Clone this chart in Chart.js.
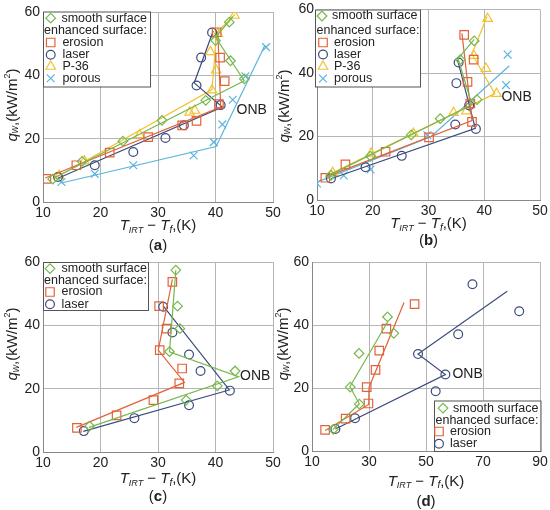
<!DOCTYPE html>
<html>
<head>
<meta charset="utf-8">
<script src="https://cdn.jsdelivr.net/npm/chart.js@4.4.1/dist/chart.umd.min.js"></script>
<style>
  body { margin: 0; background: #fff; }
  #wrap { position: relative; width: 550px; height: 510px; overflow: hidden; }
  #wrap canvas { position: absolute; }
</style>
</head>
<body>
<div id="wrap">
  <canvas id="chartA" width="285" height="255" style="left:0;top:0"></canvas>
  <canvas id="chartB" width="275" height="255" style="left:275px;top:0"></canvas>
  <canvas id="chartC" width="285" height="255" style="left:0;top:255px"></canvas>
  <canvas id="chartD" width="275" height="255" style="left:275px;top:255px"></canvas>
</div>
<script>
// values: [T_IRT - T_f (K), q_w (kW/m2)]
// (a)
const aSmooth = [[11.7, 7.2], [16.8, 12.8], [23.9, 19.2], [30.7, 25.8], [38.3, 32.1], [45.0, 38.9], [42.6, 44.6], [40.0, 51.0], [42.4, 56.8]];
const aSmoothFit = [[11.7, 7.4], [45.0, 38.3], [40.0, 52.0], [43.0, 58.5]];
const aErosion = [[10.6, 7.3], [15.8, 11.6], [21.6, 15.6], [28.3, 20.5], [34.2, 24.2], [36.7, 25.6], [40.6, 30.9], [41.6, 38.2], [40.8, 45.6], [40.2, 53.6]];
const aErosionFit = [[10.4, 7.6], [40.9, 30.0], [40.4, 53.8]];
const aLaser = [[12.6, 7.9], [19.0, 11.6], [25.7, 15.8], [31.3, 20.2], [34.5, 24.2], [40.9, 30.6], [36.7, 36.8], [37.5, 45.6], [39.4, 53.5]];
const aLaserFit = [[12.6, 7.5], [41.2, 30.0], [36.3, 37.6], [39.6, 54.0]];
const aP36 = [[12.8, 8.3], [17.2, 12.9], [26.8, 21.2], [35.5, 28.3], [36.4, 28.9], [39.4, 35.3], [40.1, 41.6], [39.1, 47.4], [40.4, 53.2], [43.3, 58.9]];
const aP36Fit = [[12.5, 8.0], [39.4, 35.5], [40.2, 53.5], [43.4, 59.3]];
const aPorous = [[13.2, 6.3], [19.0, 8.9], [25.7, 11.6], [36.2, 14.7], [39.7, 18.9], [41.2, 24.5], [43.0, 32.3], [45.2, 39.7], [48.8, 48.9]];
const aPorousFit = [[13.2, 6.0], [40.1, 17.5], [48.6, 49.5]];
// (b)
const bSmooth = [[12.5, 7.8], [19.6, 13.8], [26.9, 20.5], [32.1, 25.6], [38.7, 31.6], [35.7, 44.2], [38.2, 50.1]];
const bSmoothFit = [[12.0, 7.6], [37.8, 30.0], [35.3, 44.5], [38.2, 50.6]];
const bErosion = [[11.5, 7.0], [15.1, 11.2], [22.3, 15.2], [30.1, 19.7], [37.8, 24.6], [37.5, 30.4], [37.0, 37.2], [38.1, 44.2], [36.4, 52.0]];
const bErosionFit = [[11.5, 7.2], [37.8, 25.0], [36.0, 52.5]];
const bLaser = [[12.5, 6.8], [18.7, 10.3], [25.2, 13.9], [34.8, 23.8], [38.5, 22.4], [37.3, 29.8], [35.0, 36.8], [35.4, 43.3]];
const bLaserFit = [[12.5, 6.7], [38.4, 22.6], [35.2, 44.2]];
const bP36 = [[12.8, 8.6], [19.7, 14.7], [27.3, 20.9], [34.5, 27.5], [36.8, 28.0], [42.2, 33.5], [40.3, 41.4], [38.1, 45.5], [40.6, 57.1]];
const bP36Fit = [[12.5, 8.3], [41.9, 33.5], [37.8, 46.0], [40.5, 57.8]];
const bPorous = [[10.0, 5.2], [14.8, 7.7], [19.6, 9.6], [29.8, 20.4], [43.9, 36.2], [44.2, 45.8]];
const bPorousFit = [[10.0, 5.6], [30.5, 20.0], [44.5, 42.3]];
// (c)
const cSmooth = [[18.1, 8.2], [34.9, 16.4], [40.3, 20.9], [43.4, 25.6], [32.0, 31.7], [33.8, 39.0], [33.4, 46.1], [33.1, 57.5]];
const cSmoothFit = [[18.0, 7.8], [44.0, 23.8], [32.0, 31.7], [33.1, 57.5]];
const cErosion = [[15.9, 7.6], [22.8, 11.6], [29.2, 16.4], [33.7, 21.7], [34.2, 26.4], [30.3, 32.2], [31.5, 39.0], [30.2, 46.1], [32.5, 53.8]];
const cErosionFit = [[15.8, 7.8], [34.6, 22.0], [30.05, 32.2], [32.5, 54.6]];
const cLaser = [[17.1, 6.6], [25.9, 10.7], [35.4, 14.8], [42.5, 19.4], [37.4, 25.6], [35.4, 30.8], [32.5, 37.8], [30.9, 45.9]];
const cLaserFit = [[17.0, 6.5], [42.4, 19.6], [30.9, 46.2]];
// (d)
const dSmooth = [[17.5, 6.9], [26.6, 14.9], [23.4, 20.3], [26.5, 31.0], [38.7, 37.4], [36.5, 42.6]];
const dSmoothFit = [[17.3, 6.8], [26.6, 15.0], [23.3, 20.4], [36.5, 41.0]];
const dErosion = [[14.6, 6.7], [21.8, 10.3], [29.8, 15.1], [29.2, 20.3], [32.3, 25.8], [33.6, 31.9], [36.1, 38.9], [46.0, 46.7]];
const dErosionFit = [[14.6, 6.5], [29.9, 14.8], [30.0, 20.2], [42.3, 47.2]];
const dLaser = [[18.2, 7.0], [25.1, 10.4], [53.4, 19.0], [56.8, 24.3], [47.2, 30.8], [61.3, 37.1], [66.3, 53.0], [82.7, 44.4]];
const dLaserFit = [[18.2, 7.0], [56.8, 24.3], [47.2, 30.8], [78.5, 50.8]];

const FONT = '"Liberation Sans", Arial, Helvetica, sans-serif';
const COL = {
  smooth: "#76b84c",
  erosion: "#e2633a",
  laser: "#3b4c7e",
  p36: "#f1c232",
  porous: "#5bb4dc",
};
const MARK = {
  smooth: { style: "rectRot", r: 4.8 },
  erosion: { style: "rect", r: 6 },
  laser: { style: "circle", r: 4.4 },
  p36: { style: "triangle", r: 5.5 },
  porous: { style: "crossRot", r: 5.5 },
};
const NAMES = {
  smooth: "smooth surface",
  erosion: "erosion",
  laser: "laser",
  p36: "P-36",
  porous: "porous",
};

function toXY(list) {
  return list.map((p) => ({ x: p[0], y: p[1] }));
}

/**
 * Marker drawing for the in-plot legend (same shapes as Chart.js points)
 */
function drawMarker(ctx, key, x, y) {
  const m = MARK[key];
  const r = m.r;
  ctx.save();
  ctx.strokeStyle = COL[key];
  ctx.lineWidth = 1.2;
  ctx.beginPath();
  if (m.style === "circle") {
    ctx.arc(x, y, r, 0, Math.PI * 2);
  } else if (m.style === "rect") {
    const s = r * Math.SQRT1_2;
    ctx.rect(x - s, y - s, 2 * s, 2 * s);
  } else if (m.style === "rectRot") {
    ctx.moveTo(x - r, y);
    ctx.lineTo(x, y - r);
    ctx.lineTo(x + r, y);
    ctx.lineTo(x, y + r);
    ctx.closePath();
  } else if (m.style === "triangle") {
    let a = 0;
    ctx.moveTo(x + Math.sin(a) * r, y - Math.cos(a) * r);
    a += (2 * Math.PI) / 3;
    ctx.lineTo(x + Math.sin(a) * r, y - Math.cos(a) * r);
    a += (2 * Math.PI) / 3;
    ctx.lineTo(x + Math.sin(a) * r, y - Math.cos(a) * r);
    ctx.closePath();
  } else if (m.style === "crossRot") {
    const d = r * Math.SQRT1_2;
    ctx.moveTo(x - d, y - d);
    ctx.lineTo(x + d, y + d);
    ctx.moveTo(x - d, y + d);
    ctx.lineTo(x + d, y - d);
  }
  ctx.stroke();
  ctx.restore();
}

// text made of several runs (italic, subscript, superscript), centered at cx
function drawRuns(ctx, runs, cx, cy) {
  let w = 0;
  runs.forEach((r) => {
    ctx.font = r.font;
    w += ctx.measureText(r.t).width;
  });
  let x = cx - w / 2;
  runs.forEach((r) => {
    ctx.font = r.font;
    ctx.fillText(r.t, x, cy + (r.dy || 0));
    x += ctx.measureText(r.t).width;
  });
}

const xTitleRuns = [
  { t: "T", font: "italic 15px " + FONT },
  { t: "IRT", font: "italic 9px " + FONT, dy: 4 },
  { t: " \u2212 ", font: "15px " + FONT },
  { t: "T", font: "italic 15px " + FONT },
  { t: "f", font: "italic 10px " + FONT, dy: 4 },
  { t: ",(K)", font: "15px " + FONT },
];
const yTitleRuns = [
  { t: "q", font: "italic 15px " + FONT },
  { t: "w", font: "italic 10px " + FONT, dy: 3 },
  { t: ",(kW/m", font: "15px " + FONT },
  { t: "2", font: "9px " + FONT, dy: -5 },
  { t: ")", font: "15px " + FONT },
];

const decorPlugin = {
  id: "decor",
  afterDraw(chart, args, opts) {
    const ctx = chart.ctx;
    const area = chart.chartArea;
    const xs = chart.scales.x;
    const ys = chart.scales.y;
    ctx.save();
    ctx.fillStyle = "#222";
    ctx.textBaseline = "middle";
    ctx.textAlign = "left";

    // axis titles and panel letter
    const cx = (area.left + area.right) / 2;
    drawRuns(ctx, xTitleRuns, cx, area.bottom + opts.titleDy);
    drawRuns(
      ctx,
      [
        { t: "(", font: "15px " + FONT },
        { t: opts.letter, font: "bold 15px " + FONT },
        { t: ")", font: "15px " + FONT },
      ],
      cx,
      area.bottom + opts.letterDy
    );
    ctx.save();
    ctx.translate(opts.yTitle[0], opts.yTitle[1]);
    ctx.rotate(-Math.PI / 2);
    drawRuns(ctx, yTitleRuns, 0, 0);
    ctx.restore();

    // ONB note
    ctx.font = "14px " + FONT;
    ctx.textAlign = "center";
    ctx.fillText("ONB", xs.getPixelForValue(opts.onb[0]), ys.getPixelForValue(opts.onb[1]));

    // legend box inside the plot
    const lg = opts.legend;
    ctx.fillStyle = "#fff";
    ctx.fillRect(lg.x, lg.y, lg.w, lg.h);
    ctx.strokeStyle = "#555";
    ctx.lineWidth = 1;
    ctx.strokeRect(lg.x + 0.5, lg.y + 0.5, lg.w, lg.h);
    ctx.fillStyle = "#222";
    ctx.textAlign = "left";
    ctx.font = "12.5px " + FONT;
    lg.keys.forEach((key, i) => {
      const y = lg.y + lg.rows[i];
      if (key === "header") {
        ctx.fillText("enhanced surface:", lg.x + lg.hx, y);
        return;
      }
      const first = key === "smooth";
      drawMarker(ctx, key, lg.x + (first ? lg.mk0 : lg.mk), y);
      ctx.fillText(NAMES[key], lg.x + (first ? lg.tx0 : lg.tx), y);
    });
    ctx.restore();
  },
};

function makeChart(id, geom, xMax, xStep, series, decor) {
  const datasets = [];
  series.forEach((s) => {
    datasets.push({
      data: toXY(s.points),
      showLine: false,
      pointStyle: MARK[s.key].style,
      pointRadius: MARK[s.key].r,
      pointBorderColor: COL[s.key],
      pointBackgroundColor: "rgba(255,255,255,0)",
      pointBorderWidth: 1.2,
    });
    datasets.push({
      data: toXY(s.fit),
      showLine: true,
      pointRadius: 0,
      borderColor: COL[s.key],
      borderWidth: 1.2,
      fill: false,
      tension: 0,
    });
  });

  const tickFont = { size: 14, family: FONT };
  return new Chart(document.getElementById(id), {
    type: "scatter",
    data: { datasets: datasets },
    options: {
      responsive: false,
      animation: false,
      layout: { padding: { top: geom.top, right: geom.right, left: 0, bottom: 0 } },
      plugins: {
        legend: { display: false },
        tooltip: { enabled: false },
        decor: decor,
      },
      scales: {
        x: {
          type: "linear",
          min: 10,
          max: xMax,
          ticks: { stepSize: xStep, color: "#222", font: tickFont, padding: 3, maxRotation: 0 },
          grid: { color: "#b5b5b5", drawTicks: false },
          border: { color: "#888" },
          afterFit: function (scale) {
            scale.height = geom.xh;
            scale.paddingLeft = 0;
            scale.paddingRight = 0;
          },
        },
        y: {
          min: 0,
          max: 60,
          ticks: { stepSize: 20, color: "#222", font: tickFont, padding: 3 },
          grid: { color: "#b5b5b5", drawTicks: false },
          border: { color: "#888" },
          afterFit: function (scale) {
            scale.width = geom.left;
            scale.paddingTop = 0;
            scale.paddingBottom = 0;
          },
        },
      },
    },
    plugins: [decorPlugin],
  });
}

document.addEventListener("DOMContentLoaded", function () {
  makeChart(
    "chartA",
    { left: 43, right: 12, top: 12, xh: 53 },
    50,
    10,
    [
      { key: "smooth", points: aSmooth, fit: aSmoothFit },
      { key: "erosion", points: aErosion, fit: aErosionFit },
      { key: "laser", points: aLaser, fit: aLaserFit },
      { key: "p36", points: aP36, fit: aP36Fit },
      { key: "porous", points: aPorous, fit: aPorousFit },
    ],
    {
      letter: "a",
      titleDy: 24,
      letterDy: 44,
      yTitle: [12.5, 105],
      onb: [46.3, 29.0],
      legend: {
        x: 43, y: 11.5, w: 107, h: 75,
        rows: [6.7, 19.4, 31, 43.2, 55, 66.7],
        keys: ["smooth", "header", "erosion", "laser", "p36", "porous"],
        mk0: 7.7, tx0: 18.4, hx: 1, mk: 7.7, tx: 19.4,
      },
    }
  );

  makeChart(
    "chartB",
    { left: 42, right: 10, top: 9.5, xh: 55 },
    50,
    10,
    [
      { key: "smooth", points: bSmooth, fit: bSmoothFit },
      { key: "erosion", points: bErosion, fit: bErosionFit },
      { key: "laser", points: bLaser, fit: bLaserFit },
      { key: "p36", points: bP36, fit: bP36Fit },
      { key: "porous", points: bPorous, fit: bPorousFit },
    ],
    {
      letter: "b",
      titleDy: 24,
      letterDy: 41,
      yTitle: [9.5, 106],
      onb: [45.8, 32.5],
      legend: {
        x: 40, y: 9.5, w: 105, h: 77,
        rows: [6.5, 21, 33, 45, 57, 69],
        keys: ["smooth", "header", "erosion", "laser", "p36", "porous"],
        mk0: 7, tx0: 17, hx: 1.5, mk: 8, tx: 19,
      },
    }
  );

  makeChart(
    "chartC",
    { left: 43, right: 12, top: 7, xh: 58 },
    50,
    10,
    [
      { key: "smooth", points: cSmooth, fit: cSmoothFit },
      { key: "erosion", points: cErosion, fit: cErosionFit },
      { key: "laser", points: cLaser, fit: cLaserFit },
    ],
    {
      letter: "c",
      titleDy: 27,
      letterDy: 45,
      yTitle: [13, 89],
      onb: [46.9, 24.1],
      legend: {
        x: 43, y: 7, w: 105, h: 48,
        rows: [6.6, 18.3, 30, 42.3],
        keys: ["smooth", "header", "erosion", "laser"],
        mk0: 7, tx0: 18.5, hx: 1, mk: 7, tx: 18.5,
      },
    }
  );

  makeChart(
    "chartD",
    { left: 37, right: 10, top: 7, xh: 59 },
    90,
    20,
    [
      { key: "smooth", points: dSmooth, fit: dSmoothFit },
      { key: "erosion", points: dErosion, fit: dErosionFit },
      { key: "laser", points: dLaser, fit: dLaserFit },
    ],
    {
      letter: "d",
      titleDy: 30.5,
      letterDy: 50.5,
      yTitle: [8.5, 89],
      onb: [64.6, 24.5],
      legend: {
        x: 159, y: 145.5, w: 106.5, h: 50.5,
        rows: [7.6, 20, 31, 43.3],
        keys: ["smooth", "header", "erosion", "laser"],
        mk0: 9, tx0: 19, hx: 1.5, mk: 5, tx: 16,
      },
    }
  );
});
</script>
</body>
</html>
